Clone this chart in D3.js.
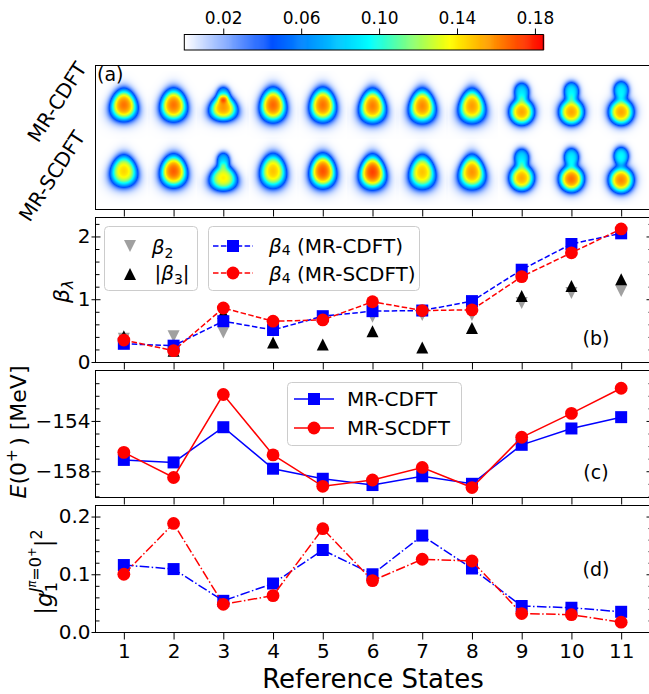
<!DOCTYPE html>
<html>
<head>
<meta charset="utf-8">
<script src="https://cdn.jsdelivr.net/npm/d3@7"></script>
<style>
  body { margin: 0; background: #fff; }
  text { font-family: "DejaVu Sans", sans-serif; }
</style>
</head>
<body>
<div id="vis"></div>
<script>
// data
const STATES = [1, 2, 3, 4, 5, 6, 7, 8, 9, 10, 11];

const BETA2 = [0.37, 0.41, 0.47, 0.50, 0.70, 0.72, 0.75, 0.75, 0.94, 1.10, 1.13];
const BETA3 = [0.41, 0.18, 0.78, 0.31, 0.28, 0.49, 0.23, 0.54, 1.05, 1.21, 1.32];
const BETA4_CDFT = [0.29, 0.26, 0.65, 0.51, 0.73, 0.81, 0.82, 0.97, 1.47, 1.88, 2.05];
const BETA4_SCDFT = [0.35, 0.18, 0.86, 0.65, 0.67, 0.96, 0.82, 0.83, 1.36, 1.74, 2.12];

const E_CDFT = [-157.1, -157.3, -154.5, -157.8, -158.6, -159.1, -158.4, -159.0, -155.9, -154.6, -153.7];
const E_SCDFT = [-156.5, -158.5, -151.9, -156.7, -159.2, -158.7, -157.7, -159.3, -155.3, -153.4, -151.4];

const G_CDFT = [0.116, 0.109, 0.054, 0.084, 0.142, 0.100, 0.167, 0.110, 0.045, 0.042, 0.035];
const G_SCDFT = [0.100, 0.188, 0.048, 0.063, 0.179, 0.089, 0.126, 0.123, 0.032, 0.030, 0.017];

// density maps: peak density and rough shape of each reference state (px)
const PEAK_CDFT = [0.166, 0.166, 0.158, 0.168, 0.166, 0.164, 0.162, 0.158, 0.156, 0.156, 0.156];
const PEAK_SCDFT = [0.146, 0.170, 0.140, 0.150, 0.172, 0.175, 0.150, 0.160, 0.155, 0.166, 0.162];
const BODY_Z_CDFT = [0, 0, -3, 0, 0, -1, -1, -1, -7, -7, -7];
const BODY_Z_SCDFT = [0, 0, -7, 0, 0, -1, -1, -1, -7, -8, -9];
const BODY_RX = [11.8, 11.7, 12.2, 11.5, 11.5, 11.5, 11.5, 11.5, 11, 11, 11];
const BODY_RZ = [14, 14.3, 11.5, 15, 15, 15, 15, 15, 11.5, 11.5, 11.5];
const TAPER = [0.15, 0.12, 0.15, 0.12, 0.12, 0.18, 0.18, 0.2, 0, 0, 0];
const KNOB_Z = [0, 0, 11, 0, 0, 0, 0, 0, 13.5, 14, 15];
const KNOB_R = [0, 0, 6, 0, 0, 0, 0, 0, 7, 7, 7];
const KNOB_CDFT = [0, 0, 0.065, 0, 0, 0, 0, 0, 0.085, 0.09, 0.09];
const KNOB_SCDFT = [0, 0, 0.075, 0, 0, 0, 0, 0, 0.085, 0.09, 0.095];

const CB_TICKS = [0.02, 0.06, 0.10, 0.14, 0.18];
const CB_STOPS = [0, 0.045, 0.095, 0.115, 0.136, 0.157, 0.1843];
const CB_COLORS = ["#ffffff", "#0050ff", "#00ffff", "#80ff80", "#ffff00", "#ff9900", "#ff0000"];

const W = 649, H = 694;
const X0 = 95, X1 = 651;
const PA = [65, 209], PB = [217, 362], PC = [370, 497], PD = [505, 632];
const BLUE = "#0000ff", RED = "#ff0000", GRAY = "#a0a0a0";
const NB = "\u00a0";

const svg = d3.select("#vis").append("svg")
  .attr("width", W).attr("height", H);

const x = d3.scaleLinear().domain([0.42, 11.6]).range([X0, X1]);
const yb = d3.scaleLinear().domain([0, 2.31]).range([PB[1], PB[0]]);
const yc = d3.scaleLinear().domain([-160.05, -149.95]).range([PC[1], PC[0]]);
const yd = d3.scaleLinear().domain([0, 0.22]).range([PD[1], PD[0]]);
const color = d3.scaleLinear().domain(CB_STOPS).range(CB_COLORS).clamp(true);

//colorbar
const cb = d3.scaleLinear().domain([0, 0.1843]).range([184.3, 543.3]);
const cbG = svg.append("g");
cbG.selectAll("rect").data(d3.range(0, 0.1843, 0.0005)).join("rect")
  .attr("x", d => cb(d)).attr("y", 34.5)
  .attr("width", cb(0.0005) - cb(0) + 0.6).attr("height", 15.5)
  .attr("fill", d => color(d));
cbG.append("rect").attr("x", 184.3).attr("y", 34.5).attr("width", 359).attr("height", 15.5)
  .attr("fill", "none").attr("stroke", "#000");
svg.append("g").attr("transform", "translate(0,34.5)")
  .call(d3.axisTop(cb).tickValues(CB_TICKS).tickSize(6).tickPadding(5).tickFormat(d3.format(".2f")))
  .call(g => g.select(".domain").remove())
  .attr("font-size", 17).attr("font-family", "DejaVu Sans");

//panel (a): density maps
function fermi(s) { return 1 / (1 + Math.exp((s - 1) / 0.22)); }
function density(dx, dz, k, row) {
  const peak = row ? PEAK_SCDFT[k] : PEAK_CDFT[k];
  const zz = dz - (row ? BODY_Z_SCDFT[k] : BODY_Z_CDFT[k]);
  const rx = Math.max(4, BODY_RX[k] * (1 - TAPER[k] * zz / BODY_RZ[k]));
  let rho = peak * fermi(Math.hypot(dx / rx, zz / BODY_RZ[k]));
  const ka = row ? KNOB_SCDFT[k] : KNOB_CDFT[k];
  if (ka > 0) {
    rho += ka * fermi(Math.hypot(dx / KNOB_R[k], (dz - KNOB_Z[k]) / (KNOB_R[k] * 1.2)));
  }
  return rho;
}
const ROW_Y = [105, 171];
const cw = X1 - X0, ch = PA[1] - PA[0];
const canvas = document.createElement("canvas");
canvas.width = cw; canvas.height = ch;
const ctx = canvas.getContext("2d");
const img = ctx.createImageData(cw, ch);
for (let py = 0; py < ch; py++) {
  for (let px = 0; px < cw; px++) {
    const X = X0 + px + 0.5, Y = PA[0] + py + 0.5;
    let rho = 0;
    STATES.forEach((s, k) => {
      const dx = X - x(s);
      if (Math.abs(dx) > 26) return;
      ROW_Y.forEach((ry, row) => {
        const dz = ry - Y;
        if (Math.abs(dz) < 34) rho += density(dx, dz, k, row);
      });
    });
    const c = d3.rgb(color(rho));
    const i = (py * cw + px) * 4;
    img.data[i] = c.r; img.data[i + 1] = c.g; img.data[i + 2] = c.b; img.data[i + 3] = 255;
  }
}
ctx.putImageData(img, 0, 0);
svg.append("image").attr("x", X0).attr("y", PA[0]).attr("width", cw).attr("height", ch)
  .attr("preserveAspectRatio", "none").attr("href", canvas.toDataURL());

//frames and x ticks
[PA, PB, PC, PD].forEach(p => {
  svg.append("rect").attr("x", X0 + 0.5).attr("y", p[0] + 0.5)
    .attr("width", X1 - X0).attr("height", p[1] - p[0])
    .attr("fill", "none").attr("stroke", "#000").attr("stroke-width", 1);
  svg.append("g").attr("transform", "translate(0," + (p[1] + 0.5) + ")")
    .call(d3.axisBottom(x).tickValues(STATES).tickSize(7).tickPadding(4)
      .tickFormat(p === PD ? d3.format("d") : ""))
    .call(g => g.select(".domain").remove())
    .attr("font-size", 20).attr("font-family", "DejaVu Sans");
});

function yTicks(y, majors, minors, fmt) {
  svg.append("g").attr("transform", "translate(" + (X0 + 0.5) + ",0)")
    .call(d3.axisLeft(y).tickValues(majors).tickSizeInner(4).tickSizeOuter(0).tickPadding(1).tickFormat(fmt))
    .call(g => g.select(".domain").remove())
    .attr("font-size", 20).attr("font-family", "DejaVu Sans");
  svg.append("g").attr("transform", "translate(" + (X0 + 0.5) + ",0)")
    .call(d3.axisLeft(y).tickValues(majors).tickSize(-5).tickFormat(""))
    .call(g => g.select(".domain").remove());
  svg.append("g").attr("transform", "translate(" + (X0 + 0.5) + ",0)")
    .call(d3.axisLeft(y).tickValues(minors).tickSize(-4).tickFormat(""))
    .call(g => g.select(".domain").remove());
  svg.append("g").attr("transform", "translate(" + (X1 + 0.5) + ",0)")
    .call(d3.axisRight(y).tickValues(majors).tickSize(-5).tickFormat(""))
    .call(g => g.select(".domain").remove());
  svg.append("g").attr("transform", "translate(" + (X1 + 0.5) + ",0)")
    .call(d3.axisRight(y).tickValues(minors).tickSize(-3).tickFormat(""))
    .call(g => g.select(".domain").remove());
}
const minorsOf = (lo, hi, step, majors) =>
  d3.range(lo, hi + step / 2, step).map(v => +v.toFixed(4)).filter(v => !majors.some(m => Math.abs(m - v) < 1e-6));
yTicks(yb, [0, 1, 2], minorsOf(0, 2.2, 0.2, [0, 1, 2]), d3.format("d"));
yTicks(yc, [-158, -154], minorsOf(-160, -151, 1, [-158, -154]), d3.format("d"));
yTicks(yd, [0, 0.1, 0.2], minorsOf(0, 0.22, 0.02, [0, 0.1, 0.2]), d3.format(".1f"));

//markers
const sym = {
  square: d3.symbol(d3.symbolSquare, 144),
  circle: d3.symbol(d3.symbolCircle, Math.PI * 6.4 * 6.4),
};
function triPath(cx, cy, up) {
  const h = 6;
  return up ? `M${cx},${cy - h}L${cx + h},${cy + h}L${cx - h},${cy + h}Z`
            : `M${cx},${cy + h}L${cx + h},${cy - h}L${cx - h},${cy - h}Z`;
}
function series(vals, y, col, shape, dash) {
  const pts = STATES.map((s, i) => [x(s), y(vals[i])]);
  svg.append("path").attr("d", d3.line()(pts)).attr("fill", "none")
    .attr("stroke", col).attr("stroke-width", 1.5).attr("stroke-dasharray", dash);
  svg.append("g").selectAll("path").data(pts).join("path")
    .attr("d", d => shape === "circle" ? sym.circle() : sym.square())
    .attr("transform", d => "translate(" + d[0] + "," + d[1] + ")")
    .attr("fill", col);
}

// panel (b)
svg.append("g").selectAll("path").data(BETA2).join("path")
  .attr("d", (d, i) => triPath(x(STATES[i]), yb(d), false)).attr("fill", GRAY);
svg.append("g").selectAll("path").data(BETA3).join("path")
  .attr("d", (d, i) => triPath(x(STATES[i]), yb(d), true)).attr("fill", "#000");
series(BETA4_CDFT, yb, BLUE, "square", "5.5,2.4");
series(BETA4_SCDFT, yb, RED, "circle", "5.5,2.4");
// panel (c)
series(E_CDFT, yc, BLUE, "square", "none");
series(E_SCDFT, yc, RED, "circle", "none");
// panel (d)
series(G_CDFT, yd, BLUE, "square", "9.6,2.4,1.5,2.4");
series(G_SCDFT, yd, RED, "circle", "9.6,2.4,1.5,2.4");

//math-ish text helper: parts laid out left to right
function mathText(parent, parts, size, cx, cy, rot) {
  const g = parent.append("g");
  const inner = g.append("g");
  let cur = 0, mark = 0, far = 0;
  parts.forEach(p => {
    if (p.reset) cur = mark;
    if (p.far) cur = far;
    const t = inner.append("text").attr("x", cur).attr("y", (p.dy || 0) * size)
      .attr("font-size", size * (p.s || 1))
      .attr("font-style", p.it ? "italic" : "normal").text(p.t);
    cur += t.node().getComputedTextLength() + (p.gap || 0) * size;
    far = Math.max(far, cur);
    if (p.mark) mark = cur;
  });
  const bb = inner.node().getBBox();
  inner.attr("transform", "translate(" + (-bb.x - bb.width / 2) + "," + (-bb.y - bb.height / 2) + ")");
  g.attr("transform", "translate(" + cx + "," + cy + ") rotate(" + rot + ")");
  return g;
}

//legends
function legendBox(x0, y0, w, h) {
  svg.append("rect").attr("x", x0 + 0.5).attr("y", y0 + 0.5).attr("width", w).attr("height", h)
    .attr("rx", 4).attr("fill", "#fff").attr("fill-opacity", 0.8).attr("stroke", "#cccccc");
}
legendBox(104, 226, 93, 64);
svg.append("path").attr("d", triPath(130, 246, false)).attr("fill", GRAY);
svg.append("path").attr("d", triPath(130, 274, true)).attr("fill", "#000");
mathText(svg, [{t: "β", it: true}, {t: "2", s: 0.7, dy: 0.22}], 20, 162, 248, 0);
mathText(svg, [{t: "|"}, {t: "β", it: true}, {t: "3", s: 0.7, dy: 0.22}, {t: "|"}], 20, 172, 274, 0);

legendBox(208, 226, 211, 64);
function legendLine(x0, y, col, shape, dash) {
  svg.append("line").attr("x1", x0).attr("x2", x0 + 40).attr("y1", y).attr("y2", y)
    .attr("stroke", col).attr("stroke-width", 1.5).attr("stroke-dasharray", dash);
  svg.append("path").attr("d", shape === "circle" ? sym.circle() : sym.square())
    .attr("transform", "translate(" + (x0 + 20) + "," + y + ")").attr("fill", col);
}
legendLine(213, 246, BLUE, "square", "5.5,2.4");
legendLine(213, 273, RED, "circle", "5.5,2.4");
function legText(parts, x0, y) {
  const g = svg.append("g");
  let cur = x0;
  parts.forEach(p => {
    const t = g.append("text").attr("x", cur).attr("y", y + (p.dy || 0) * 20)
      .attr("font-size", 20 * (p.s || 1)).attr("font-style", p.it ? "italic" : "normal")
      .attr("dominant-baseline", "central").text(p.t);
    cur += t.node().getComputedTextLength();
  });
}
legText([{t: "β", it: true}, {t: "4", s: 0.7, dy: 0.22}, {t: NB + "(MR-CDFT)"}], 269, 246);
legText([{t: "β", it: true}, {t: "4", s: 0.7, dy: 0.22}, {t: NB + "(MR-SCDFT)"}], 269, 274);

legendBox(287, 382, 174, 63);
legendLine(294, 399, BLUE, "square", "none");
legendLine(294, 428, RED, "circle", "none");
legText([{t: "MR-CDFT"}], 347, 399);
legText([{t: "MR-SCDFT"}], 347, 428);

//panel labels
svg.append("text").attr("x", 97).attr("y", 80.5).attr("font-size", 19).text("(a)");
[["(b)", 344.5], ["(c)", 479], ["(d)", 575.5]].forEach(d => {
  svg.append("text").attr("x", 596).attr("y", d[1]).attr("font-size", 19)
    .attr("text-anchor", "middle").text(d[0]);
});

//row labels of panel (a)
svg.append("text").attr("transform", "translate(57,102) rotate(-57)")
  .attr("text-anchor", "middle").attr("dominant-baseline", "central").attr("font-size", 20).text("MR-CDFT");
svg.append("text").attr("transform", "translate(52,176) rotate(-57)")
  .attr("text-anchor", "middle").attr("dominant-baseline", "central").attr("font-size", 20).text("MR-SCDFT");

//axis titles
mathText(svg, [{t: "β", it: true}, {t: "λ", it: true, s: 0.7, dy: 0.22}], 22, 63, 292, -90);
mathText(svg, [{t: "E", it: true}, {t: "(0"}, {t: "+", s: 0.7, dy: -0.4, gap: 0.15}, {t: ")"}, {t: NB + "[MeV]"}], 22, 17, 432, -90);
mathText(svg, [
  {t: "|"}, {t: "g", it: true, mark: true},
  {t: "1", s: 0.7, dy: 0.25},
  {t: "J", it: true, s: 0.7, dy: -0.45, reset: true},
  {t: "π", it: true, s: 0.5, dy: -0.7},
  {t: "=0", s: 0.7, dy: -0.45},
  {t: "+", s: 0.5, dy: -0.7},
  {t: "|", far: true}, {t: "2", s: 0.7, dy: -0.42}
], 23, 43, 572, -90);

svg.append("text").attr("x", 373).attr("y", 688).attr("text-anchor", "middle")
  .attr("font-size", 26).text("Reference States");
</script>
</body>
</html>
